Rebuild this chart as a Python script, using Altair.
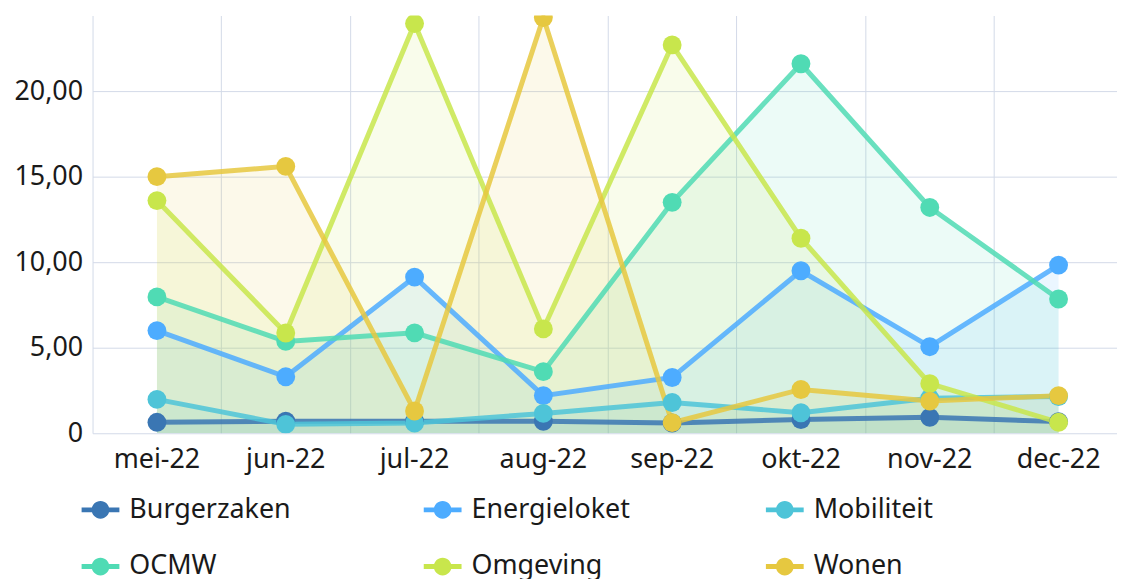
import altair as alt
import pandas as pd

months = ["mei-22", "jun-22", "jul-22", "aug-22", "sep-22", "okt-22", "nov-22", "dec-22"]
series_names = ["Burgerzaken", "Energieloket", "Mobiliteit", "OCMW", "Omgeving", "Wonen"]
burgerzaken = [0.64, 0.70, 0.70, 0.70, 0.60, 0.80, 0.93, 0.68]
energieloket = [6.0, 3.3, 9.13, 2.2, 3.26, 9.5, 5.06, 9.83]
mobiliteit = [1.98, 0.52, 0.60, 1.16, 1.80, 1.20, 2.05, 2.15]
ocmw = [7.97, 5.37, 5.87, 3.60, 13.5, 21.6, 13.2, 7.85]
omgeving = [13.6, 5.86, 23.95, 6.1, 22.7, 11.4, 2.9, 0.64]
wonen = [15.0, 15.6, 1.3, 24.3, 0.62, 2.56, 1.88, 2.2]
colors = ["#3a76b3", "#4dacff", "#4ec4d8", "#50dbb4", "#c8e64c", "#e6c840"]
y_ticks = [0, 5, 10, 15, 20]

all_values = [burgerzaken, energieloket, mobiliteit, ocmw, omgeving, wonen]
rows = []
for si, (name, vals) in enumerate(zip(series_names, all_values)):
    for mi, (m, v) in enumerate(zip(months, vals)):
        rows.append({"maand": m, "reeks": name, "waarde": v, "volgorde": si})
df = pd.DataFrame(rows)

FONT = "Noto Sans"
FS = 27
W, H = 1030, 420
XRANGE = [0, 1036]

xscale = alt.Scale(type="band", domain=months, range=XRANGE, paddingInner=0, paddingOuter=0)
yscale = alt.Scale(domain=[0, 24.42], nice=False, zero=True)
cscale = alt.Scale(domain=series_names, range=colors)

y_axis = alt.Axis(values=y_ticks, grid=True, gridColor="#d3dae8",
                  ticks=False, domain=False, title=None,
                  labelFontSize=FS, labelFont=FONT, labelColor="#1a1a1a",
                  labelPadding=10,
                  labelExpr="datum.value == 0 ? '0' : replace(format(datum.value, '.2f'), '.', ',')")

legend_path = ("M -1 -0.13 H 1 V 0.13 H -1 Z "
               "M 0.47 0 A 0.47 0.47 0 1 1 -0.47 0 A 0.47 0.47 0 1 1 0.47 0 Z")
legend = alt.Legend(orient="none", legendX=-11, legendY=478,
                    direction="horizontal", columns=3,
                    gridAlign="all", columnPadding=133,
                    rowPadding=25, title=None,
                    symbolType=legend_path, symbolSize=1444,
                    symbolStrokeWidth=0, symbolOpacity=1,
                    labelFontSize=FS, labelFont=FONT,
                    labelColor="#1a1a1a", labelOffset=10,
                    labelLimit=400, padding=0)
color_enc = alt.Color("reeks:N", scale=cscale, legend=legend)

base = alt.Chart(df)

# vertical grid at band edges (top axis, no labels)
grid_layer = base.mark_point(opacity=0).encode(
    x=alt.X("maand:N", scale=xscale, sort=months,
            axis=alt.Axis(orient="top", grid=True, bandPosition=0, labels=False,
                          ticks=False, domain=False, title=None,
                          gridColor="#d3dae8", gridWidth=1)),
    y=alt.Y("waarde:Q", scale=yscale, axis=y_axis),
)

areas = base.mark_area(opacity=0.11, clip=True).encode(
    x=alt.X("maand:N", scale=xscale, sort=months, bandPosition=0.5,
            axis=alt.Axis(orient="bottom", grid=False, ticks=False, domain=False,
                          title=None, labelFontSize=FS, labelFont=FONT,
                          labelColor="#1a1a1a", labelPadding=13, labelAngle=0)),
    y=alt.Y("waarde:Q", scale=yscale, stack=None, axis=y_axis),
    color=color_enc,
    order=alt.Order("volgorde:Q"),
)

lines = base.mark_line(strokeWidth=5, opacity=0.85, clip=True).encode(
    x=alt.X("maand:N", scale=xscale, sort=months, bandPosition=0.5, axis=None),
    y=alt.Y("waarde:Q", scale=yscale, axis=y_axis),
    color=color_enc,
    order=alt.Order("volgorde:Q"),
)

points = base.mark_circle(size=360, opacity=1, clip=True).encode(
    x=alt.X("maand:N", scale=xscale, sort=months, bandPosition=0.5, axis=None),
    y=alt.Y("waarde:Q", scale=yscale, axis=y_axis),
    color=color_enc,
    order=alt.Order("volgorde:Q"),
)

chart = alt.layer(grid_layer, areas, lines, points).resolve_axis(
    x="independent"
).properties(
    width=W, height=H,
    background="white",
    autosize=alt.AutoSizeParams(type="none"),
    padding={"left": 85, "top": 6, "right": 0, "bottom": 148},
).configure_view(stroke=None)

chart.save("out.html", embed_options={"renderer": "svg", "actions": False})
